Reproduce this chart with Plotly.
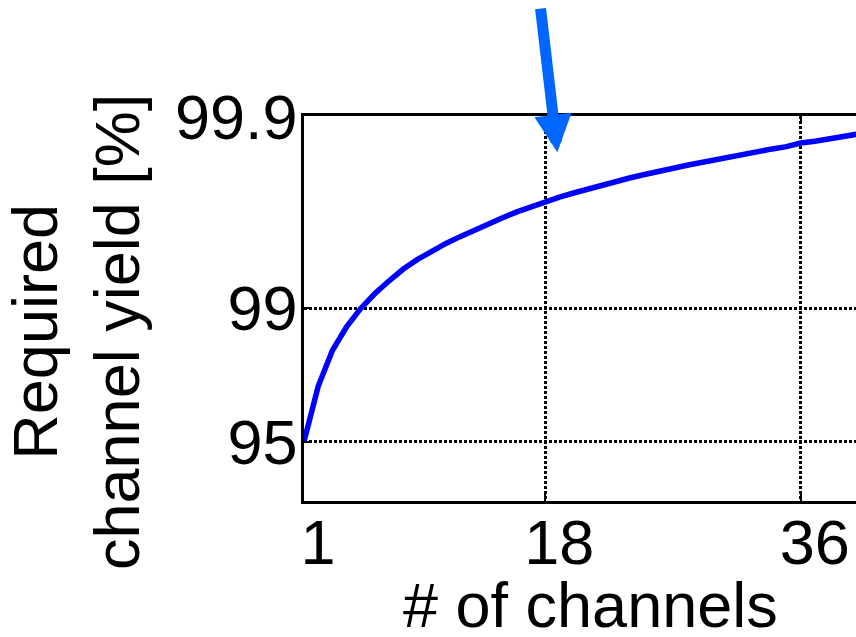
import plotly.graph_objects as go

# Number of channels on the die
channels = list(range(1, 41))

# Per-channel yield (%) needed to keep the overall target yield
required_yield = [
    95.000, 97.430, 98.330, 98.745, 98.995, 99.160, 99.280, 99.375, 99.443, 99.497,
    99.541, 99.577, 99.610, 99.638, 99.663, 99.686, 99.705, 99.722, 99.737, 99.750,
    99.762, 99.773, 99.783, 99.792, 99.800, 99.808, 99.815, 99.821, 99.827, 99.833,
    99.838, 99.843, 99.848, 99.853, 99.857, 99.863, 99.866, 99.870, 99.873, 99.877,
]

x_ticks = [1, 18, 36]
y_tick_yields = [95, 99, 99.9]
y_tick_labels = ["95", "99", "99.9"]

# The yield axis is logarithmic in the loss (100 - yield), drawn reversed
loss = [100 - v for v in required_yield]
loss_ticks = [100 - v for v in y_tick_yields]

FONT = "Liberation Sans, Arial, Helvetica, sans-serif"
FS = 63

fig = go.Figure()
fig.add_trace(go.Scatter(
    x=channels, y=loss, mode="lines",
    line=dict(color="#0000FF", width=5.5),
    showlegend=False, hoverinfo="skip",
))

fig.update_layout(
    width=856, height=637,
    margin=dict(l=304, r=0, t=116, b=136),
    paper_bgcolor="white", plot_bgcolor="white",
    font=dict(family=FONT, size=FS, color="black"),
    showlegend=False,
)

fig.update_xaxes(
    range=[1, 39.9], tickvals=x_ticks, ticktext=[str(t) for t in x_ticks],
    showline=True, linecolor="black", linewidth=2.5, mirror="ticks",
    ticks="inside", ticklen=8, tickwidth=1.5, tickcolor="black",
    showgrid=True, gridcolor="black", gridwidth=2.5, griddash="2.5px,2.5px",
    zeroline=False, ticklabelshift=14, ticklabelstandoff=-15,
    tickfont=dict(family=FONT, size=FS, color="black"),
)

fig.update_yaxes(
    type="log", range=[1.01, -1.005],
    tickvals=loss_ticks, ticktext=y_tick_labels,
    showline=True, linecolor="black", linewidth=2.5, mirror=False,
    ticks="inside", ticklen=8, tickwidth=1.5, tickcolor="black",
    showgrid=True, gridcolor="black", gridwidth=2.5, griddash="2.5px,2.5px",
    zeroline=False, ticklabelstandoff=-9,
    tickfont=dict(family=FONT, size=FS, color="black"),
)

# Axis titles
fig.add_annotation(
    text="Required<br>channel yield [%]", textangle=-90,
    xref="paper", yref="paper", x=-0.413, y=0.439,
    xanchor="center", yanchor="middle", showarrow=False,
    font=dict(family=FONT, size=FS, color="black"),
)
fig.add_annotation(
    text="# of channels",
    xref="paper", yref="paper", x=0.519, y=-0.27,
    xanchor="center", yanchor="middle", showarrow=False,
    font=dict(family=FONT, size=FS, color="black"),
)

# Pointer arrow toward the 18-channel point
fig.add_annotation(
    xref="paper", yref="paper", x=0.459, y=0.906,
    ax=-17, ay=-145, axref="pixel", ayref="pixel",
    text="", showarrow=True, arrowhead=2, arrowsize=0.68,
    arrowwidth=11, arrowcolor="#0066FF", standoff=0,
)

fig.write_html("out.html")
